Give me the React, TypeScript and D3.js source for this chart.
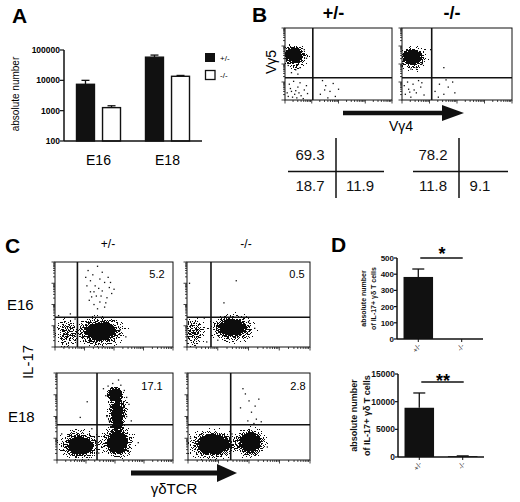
import React from "react";
import * as d3 from "d3";

const F = "'Liberation Sans', Arial, sans-serif";

// ---- panel A ----
const stagesA = ["E16", "E18"];
const genotypes = ["+/-", "-/-"];
const meanA = [
  [7400, 1260],
  [58000, 13600],
];
const errA = [
  [10000, 1450],
  [68000, 14500],
];
const ticksA = [100, 1000, 10000, 100000];

// ---- panel B ----
const bHeaders = ["+/-", "-/-"];
const quadTop = ["69.3", "78.2"];
const quadLL = ["18.7", "11.8"];
const quadLR = ["11.9", "9.1"];

// ---- panel C ----
const cHeaders = ["+/-", "-/-"];
const cRows = ["E16", "E18"];
const il17Pct = ["5.2", "0.5", "17.1", "2.8"];

// ---- panel D ----
const meanD16 = [383, 0];
const errD16 = [432, 0];
const ticksD16 = [0, 100, 200, 300, 400, 500];
const meanD18 = [8900, 150];
const errD18 = [11570, 200];
const ticksD18 = [0, 5000, 10000, 15000];

type Cluster = { cx: number; cy: number; rx: number; ry: number; d: number };
type Dot = [number, number];

// flow plots, coordinates in 0..1 of the plot box (y up); d = density
const clustersB1: Cluster[] = [
  { cx: 0.09, cy: 0.6, rx: 0.15, ry: 0.2, d: 0.45 },
  { cx: 0.08, cy: 0.63, rx: 0.09, ry: 0.12, d: 1 },
];
const dotsB1: Dot[] = [
  [0.03, 0.05], [0.06, 0.12], [0.09, 0.08], [0.12, 0.18], [0.04, 0.22], [0.15, 0.06],
  [0.18, 0.14], [0.08, 0.26], [0.11, 0.03], [0.2, 0.2], [0.05, 0.16], [0.14, 0.24],
  [0.02, 0.1], [0.17, 0.02], [0.1, 0.13], [0.07, 0.04], [0.13, 0.1], [0.21, 0.09],
  [0.33, 0.08], [0.38, 0.2], [0.42, 0.12], [0.47, 0.05], [0.35, 0.27], [0.45, 0.23],
  [0.4, 0.03], [0.5, 0.15], [0.37, 0.14],
  [0.1, 0.42], [0.06, 0.38], [0.14, 0.45], [0.18, 0.7], [0.2, 0.58], [0.03, 0.48], [0.12, 0.36],
];
const clustersB2: Cluster[] = [
  { cx: 0.1, cy: 0.58, rx: 0.15, ry: 0.2, d: 0.45 },
  { cx: 0.09, cy: 0.6, rx: 0.1, ry: 0.12, d: 1 },
];
const dotsB2: Dot[] = [
  [0.03, 0.08], [0.06, 0.15], [0.1, 0.22], [0.13, 0.1], [0.05, 0.25], [0.17, 0.18],
  [0.08, 0.04], [0.15, 0.27], [0.2, 0.07], [0.11, 0.14], [0.02, 0.2], [0.18, 0.24], [0.07, 0.11],
  [0.3, 0.12], [0.34, 0.22], [0.38, 0.08], [0.42, 0.18], [0.46, 0.25], [0.33, 0.04],
  [0.4, 0.28], [0.48, 0.1],
  [0.38, 0.45], [0.26, 0.7], [0.18, 0.5], [0.15, 0.66], [0.08, 0.43], [0.13, 0.45],
];
const clustersC1: Cluster[] = [
  { cx: 0.38, cy: 0.18, rx: 0.25, ry: 0.21, d: 0.5 },
  { cx: 0.39, cy: 0.19, rx: 0.14, ry: 0.12, d: 1 },
  { cx: 0.1, cy: 0.16, rx: 0.11, ry: 0.2, d: 0.38 },
];
const dotsC1: Dot[] = [
  [0.28, 0.9], [0.32, 0.85], [0.36, 0.95], [0.3, 0.78], [0.34, 0.72], [0.38, 0.8],
  [0.42, 0.76], [0.46, 0.7], [0.3, 0.65], [0.35, 0.6], [0.4, 0.66], [0.44, 0.58],
  [0.48, 0.63], [0.29, 0.55], [0.33, 0.5], [0.38, 0.53], [0.42, 0.47], [0.27, 0.72],
  [0.4, 0.88], [0.45, 0.82], [0.37, 0.69], [0.31, 0.59], [0.43, 0.52], [0.36, 0.45],
  [0.47, 0.76], [0.26, 0.82], [0.39, 0.6], [0.33, 0.65], [0.5, 0.68],
  [0.13, 0.39], [0.03, 0.37], [0.17, 0.33], [0.55, 0.2], [0.6, 0.12],
];
const clustersC2: Cluster[] = [
  { cx: 0.37, cy: 0.22, rx: 0.21, ry: 0.19, d: 0.5 },
  { cx: 0.37, cy: 0.23, rx: 0.12, ry: 0.11, d: 1 },
  { cx: 0.06, cy: 0.18, rx: 0.1, ry: 0.19, d: 0.38 },
];
const dotsC2: Dot[] = [
  [0.02, 0.75], [0.3, 0.52], [0.4, 0.78], [0.25, 0.08], [0.5, 0.3], [0.55, 0.22],
  [0.14, 0.34], [0.16, 0.06],
];
const clustersC3: Cluster[] = [
  { cx: 0.2, cy: 0.17, rx: 0.21, ry: 0.2, d: 0.5 },
  { cx: 0.2, cy: 0.17, rx: 0.12, ry: 0.12, d: 1 },
  { cx: 0.52, cy: 0.2, rx: 0.17, ry: 0.21, d: 0.5 },
  { cx: 0.52, cy: 0.2, rx: 0.1, ry: 0.14, d: 1 },
  { cx: 0.52, cy: 0.55, rx: 0.1, ry: 0.3, d: 0.55 },
  { cx: 0.52, cy: 0.5, rx: 0.05, ry: 0.18, d: 0.9 },
  { cx: 0.5, cy: 0.76, rx: 0.08, ry: 0.1, d: 0.9 },
];
const dotsC3: Dot[] = [
  [0.26, 0.67], [0.2, 0.49], [0.44, 0.85], [0.48, 0.88], [0.55, 0.86], [0.58, 0.8],
  [0.6, 0.72], [0.42, 0.74], [0.46, 0.62], [0.57, 0.6], [0.6, 0.5], [0.43, 0.5],
  [0.62, 0.64], [0.4, 0.82], [0.53, 0.92], [0.45, 0.45], [0.64, 0.45], [0.56, 0.42],
  [0.3, 0.36], [0.36, 0.08], [0.7, 0.2], [0.04, 0.3],
];
const clustersC4: Cluster[] = [
  { cx: 0.2, cy: 0.18, rx: 0.24, ry: 0.2, d: 0.5 },
  { cx: 0.21, cy: 0.18, rx: 0.15, ry: 0.13, d: 0.95 },
  { cx: 0.51, cy: 0.2, rx: 0.16, ry: 0.2, d: 0.5 },
  { cx: 0.51, cy: 0.2, rx: 0.09, ry: 0.13, d: 1 },
];
const dotsC4: Dot[] = [
  [0.45, 0.82], [0.47, 0.76], [0.5, 0.68], [0.55, 0.62], [0.52, 0.55], [0.43, 0.6],
  [0.56, 0.47], [0.6, 0.44], [0.49, 0.45], [0.58, 0.7], [0.54, 0.42], [0.02, 0.25],
  [0.36, 0.3], [0.65, 0.15],
];

type Box = { x: number; y: number; w: number; h: number };

function FlowPlot({ id, box, gx, gy, clusters, dots }: {
  id: string; box: Box; gx: number; gy: number; clusters: Cluster[]; dots: Dot[];
}) {
  const x = d3.scaleLinear().domain([0, 1]).range([box.x, box.x + box.w]);
  const y = d3.scaleLinear().domain([0, 1]).range([box.y + box.h, box.y]);
  const lx = d3.scaleLog().domain([1, 1e4]).range([box.x, box.x + box.w]);
  const ly = d3.scaleLog().domain([1, 1e4]).range([box.y + box.h, box.y]);
  const isMajor = (v: number) => Math.abs(Math.log10(v) - Math.round(Math.log10(v))) < 1e-6;
  const bottom = box.y + box.h;
  return (
    <g>
      <clipPath id={`clip-${id}`}>
        <rect x={box.x} y={box.y} width={box.w} height={box.h} />
      </clipPath>
      <g clipPath={`url(#clip-${id})`}>
        <g filter="url(#speckle)">
          {clusters.map((c, i) => (
            <ellipse key={i} cx={x(c.cx)} cy={y(c.cy)} rx={x(c.rx) - x(0)} ry={y(0) - y(c.ry)}
              fill="url(#blob)" opacity={c.d} />
          ))}
        </g>
        {dots.map(([a, b], i) => (
          <rect key={i} x={x(a) - 0.6} y={y(b) - 0.6} width={1.3} height={1.3} fill="#111" />
        ))}
      </g>
      <rect x={box.x} y={box.y} width={box.w} height={box.h} fill="none" stroke="#111" strokeWidth={1} />
      <line x1={x(gx)} x2={x(gx)} y1={box.y} y2={bottom} stroke="#111" strokeWidth={1.6} />
      <line x1={box.x} x2={box.x + box.w} y1={y(gy)} y2={y(gy)} stroke="#111" strokeWidth={1.6} />
      {ly.ticks().map((v, i) => (
        <line key={`l${i}`} x1={box.x - (isMajor(v) ? 3.5 : 2)} x2={box.x} y1={ly(v)} y2={ly(v)}
          stroke="#111" strokeWidth={0.8} />
      ))}
      {lx.ticks().map((v, i) => (
        <line key={`b${i}`} x1={lx(v)} x2={lx(v)} y1={bottom} y2={bottom + (isMajor(v) ? 3.5 : 2)}
          stroke="#111" strokeWidth={0.8} />
      ))}
    </g>
  );
}

function Arrow({ x0, x1, xh, y, t, hh }: { x0: number; x1: number; xh: number; y: number; t: number; hh: number }) {
  return (
    <g fill="#111">
      <rect x={x0} y={y - t / 2} width={xh - x0 + 1} height={t} />
      <path d={`M${xh},${y - hh}L${x1},${y}L${xh},${y + hh}Z`} />
    </g>
  );
}

function BarD({ x0, x1, yTop, yBot, max, ticks, means, errs, tickSize, sigY, sigText, sigBase, lab1X, lab2X, labSize }: any) {
  const x = d3.scaleBand<string>().domain(genotypes).range([x0, x1]).paddingInner(0.32).paddingOuter(0.15);
  const y = d3.scaleLinear().domain([0, max]).range([yBot, yTop]);
  const mid = (g: string) => (x(g) as number) + x.bandwidth() / 2;
  const cy = (yTop + yBot) / 2;
  return (
    <g fontFamily={F}>
      {genotypes.map((g, i) => (
        <g key={g}>
          <rect x={x(g)} y={y(means[i])} width={x.bandwidth()} height={yBot - y(means[i])} fill="#111" />
          {errs[i] > means[i] && (
            <g stroke="#111" strokeWidth={1.3}>
              <line x1={mid(g)} x2={mid(g)} y1={y(means[i])} y2={y(errs[i])} />
              <line x1={mid(g) - 6} x2={mid(g) + 6} y1={y(errs[i])} y2={y(errs[i])} />
            </g>
          )}
          <line x1={mid(g)} x2={mid(g)} y1={yBot} y2={yBot + 3} stroke="#111" strokeWidth={1} />
          <text transform={`translate(${mid(g) + 3},${yBot + 7}) rotate(-55)`} textAnchor="end"
            fontSize={7.5} fill="#333">{g}</text>
        </g>
      ))}
      <line x1={x0} x2={x0} y1={yTop} y2={yBot} stroke="#111" strokeWidth={1.5} />
      <line x1={x0} x2={x1} y1={yBot} y2={yBot} stroke="#111" strokeWidth={1.5} />
      {ticks.map((v: number) => (
        <g key={v}>
          <line x1={x0 - 3} x2={x0} y1={y(v)} y2={y(v)} stroke="#111" strokeWidth={1.2} />
          <text x={x0 - 3} y={y(v) + 3} textAnchor="end" fontSize={tickSize} fontWeight="bold" fill="#111">{v}</text>
        </g>
      ))}
      <line x1={mid("+/-") + 2} x2={mid("-/-") + 1} y1={sigY} y2={sigY} stroke="#111" strokeWidth={1.5} />
      <text x={(mid("+/-") + mid("-/-")) / 2 + 2} y={sigBase} textAnchor="middle" fontSize={18} fontWeight="bold">{sigText}</text>
      <g fontWeight="bold" fontSize={labSize} fill="#111" textAnchor="middle">
        <text transform={`translate(${lab1X},${cy}) rotate(-90)`}>absolute number</text>
        <text transform={`translate(${lab2X},${cy}) rotate(-90)`}>of IL-17+ γδ T cells</text>
      </g>
    </g>
  );
}

export default function App() {
  // panel A scales
  const xA = d3.scaleBand<string>().domain(stagesA).range([64, 202]);
  const xIn = d3.scaleBand<string>().domain(genotypes).range([0, xA.bandwidth()]).paddingInner(0.31).paddingOuter(0.48);
  const yA = d3.scaleLog().domain([100, 100000]).range([141, 50]);

  const bBoxes: Box[] = [
    { x: 285, y: 28, w: 107, h: 72 },
    { x: 402, y: 28, w: 110, h: 72 },
  ];
  const cBoxes: Box[] = [
    { x: 55, y: 262, w: 118, h: 85 },
    { x: 187, y: 262, w: 123, h: 85 },
    { x: 57, y: 373, w: 116, h: 87 },
    { x: 188, y: 373, w: 122, h: 87 },
  ];
  const cGates = [
    [0.19, 0.35],
    [0.195, 0.35],
    [0.345, 0.405],
    [0.35, 0.405],
  ];
  const cData = [
    [clustersC1, dotsC1],
    [clustersC2, dotsC2],
    [clustersC3, dotsC3],
    [clustersC4, dotsC4],
  ] as [Cluster[], Dot[]][];
  const pctPos = [
    [157, 278],
    [297, 278],
    [152, 390],
    [298, 390],
  ];
  const tableX = [
    { v: 336, h0: 288, h1: 384, c1: 310, c2: 360 },
    { v: 459, h0: 413, h1: 508, c1: 433, c2: 480 },
  ];

  return (
    <div style={{ position: "absolute", left: 0, top: 0, background: "#fff" }}>
      <svg width={520} height={502} style={{ display: "block" }} fontFamily={F}>
        <defs>
          <radialGradient id="blob">
            <stop offset="0" stopColor="#000" stopOpacity={1} />
            <stop offset="0.4" stopColor="#000" stopOpacity={0.95} />
            <stop offset="0.7" stopColor="#000" stopOpacity={0.55} />
            <stop offset="0.88" stopColor="#000" stopOpacity={0.2} />
            <stop offset="1" stopColor="#000" stopOpacity={0} />
          </radialGradient>
          <filter id="speckle" filterUnits="userSpaceOnUse" x={0} y={0} width={520} height={502}
            colorInterpolationFilters="sRGB">
            <feTurbulence type="fractalNoise" baseFrequency="0.85" numOctaves={2} seed={7} result="noise" />
            <feColorMatrix in="noise" type="matrix"
              values="0 0 0 0 0  0 0 0 0 0  0 0 0 0 0  2.2 0 0 0 -0.6" result="na" />
            <feComposite in="SourceAlpha" in2="na" operator="arithmetic" k1={0} k2={1.5} k3={-1} k4={0.49} result="diff" />
            <feComponentTransfer in="diff" result="thr">
              <feFuncA type="discrete" tableValues="0 1" />
            </feComponentTransfer>
            <feColorMatrix in="thr" type="matrix"
              values="0 0 0 0 0.05  0 0 0 0 0.05  0 0 0 0 0.05  0 0 0 1 0" />
          </filter>
        </defs>
        <rect width={520} height={502} fill="#fff" />

        {/* ---------- A ---------- */}
        <text x={12} y={23} fontSize={21} fontWeight="bold">A</text>
        {stagesA.map((s, i) => (
          <g key={s}>
            {genotypes.map((g, j) => {
              const bx = (xA(s) as number) + (xIn(g) as number);
              const bw = xIn.bandwidth();
              const cx = bx + bw / 2;
              return (
                <g key={g}>
                  <line x1={cx} x2={cx} y1={yA(meanA[i][j])} y2={yA(errA[i][j])} stroke="#111" strokeWidth={1.3} />
                  <line x1={cx - 4} x2={cx + 4} y1={yA(errA[i][j])} y2={yA(errA[i][j])} stroke="#111" strokeWidth={1.3} />
                  <rect x={bx} y={yA(meanA[i][j])} width={bw} height={141 - yA(meanA[i][j])}
                    fill={j === 0 ? "#111" : "#fff"} stroke="#111" strokeWidth={1.4} />
                </g>
              );
            })}
            <text x={(xA(s) as number) + xA.bandwidth() / 2} y={165} textAnchor="middle" fontSize={14}>{s}</text>
          </g>
        ))}
        <line x1={64} x2={64} y1={50} y2={141} stroke="#111" strokeWidth={1.5} />
        <line x1={64} x2={202} y1={141} y2={141} stroke="#111" strokeWidth={1.5} />
        {ticksA.map((v) => (
          <g key={v}>
            <line x1={60} x2={64} y1={yA(v)} y2={yA(v)} stroke="#111" strokeWidth={1.2} />
            <text x={60} y={yA(v) + 3} textAnchor="end" fontSize={8.5} fontWeight="bold">{v}</text>
          </g>
        ))}
        <text transform="translate(19,94) rotate(-90)" textAnchor="middle" fontSize={10}>absolute number</text>
        <rect x={205} y={53} width={10} height={9} fill="#111" />
        <text x={220} y={61} fontSize={8}>+/-</text>
        <rect x={205.5} y={70.5} width={9.5} height={9} fill="#fff" stroke="#111" strokeWidth={1.3} />
        <text x={220} y={78} fontSize={8}>-/-</text>

        {/* ---------- B ---------- */}
        <text x={252} y={22} fontSize={21} fontWeight="bold">B</text>
        {bHeaders.map((h, i) => (
          <text key={h} x={bBoxes[i].x + bBoxes[i].w / 2 - 5} y={19} textAnchor="middle" fontSize={18} fontWeight="bold">{h}</text>
        ))}
        <FlowPlot id="b1" box={bBoxes[0]} gx={0.26} gy={0.31} clusters={clustersB1} dots={dotsB1} />
        <FlowPlot id="b2" box={bBoxes[1]} gx={0.27} gy={0.31} clusters={clustersB2} dots={dotsB2} />
        <text transform="translate(276,62) rotate(-90)" textAnchor="middle" fontSize={14}>Vγ5</text>
        <Arrow x0={343} x1={464} xh={442} y={113} t={4.5} hh={8} />
        <text x={401} y={131} textAnchor="middle" fontSize={14}>Vγ4</text>
        {tableX.map((t, i) => (
          <g key={i}>
            <line x1={t.v} x2={t.v} y1={138} y2={198} stroke="#111" strokeWidth={1.5} />
            <line x1={t.h0} x2={t.h1} y1={171.5} y2={171.5} stroke="#111" strokeWidth={1.5} />
            <g fontSize={15} textAnchor="middle" fill="#111">
              <text x={t.c1} y={160}>{quadTop[i]}</text>
              <text x={t.c1} y={191}>{quadLL[i]}</text>
              <text x={t.c2} y={191}>{quadLR[i]}</text>
            </g>
          </g>
        ))}

        {/* ---------- C ---------- */}
        <text x={5} y={253} fontSize={21} fontWeight="bold">C</text>
        {cHeaders.map((h, i) => (
          <text key={h} x={i === 0 ? 108 : 246} y={248} textAnchor="middle" fontSize={12}>{h}</text>
        ))}
        {cBoxes.map((b, i) => (
          <FlowPlot key={i} id={`c${i}`} box={b} gx={cGates[i][0]} gy={cGates[i][1]}
            clusters={cData[i][0]} dots={cData[i][1]} />
        ))}
        {il17Pct.map((p, i) => (
          <text key={i} x={pctPos[i][0]} y={pctPos[i][1]} textAnchor="middle" fontSize={11}>{p}</text>
        ))}
        <text x={7} y={310} fontSize={15}>{cRows[0]}</text>
        <text x={8} y={422} fontSize={15}>{cRows[1]}</text>
        <text transform="translate(33,362) rotate(-90)" textAnchor="middle" fontSize={15}>IL-17</text>
        <Arrow x0={131} x1={237} xh={217} y={473} t={5} hh={9} />
        <text x={174} y={494} textAnchor="middle" fontSize={15}>γδTCR</text>

        {/* ---------- D ---------- */}
        <text x={331} y={252} fontSize={21} fontWeight="bold">D</text>
        <BarD x0={397} x1={483} yTop={258} yBot={339} max={500} ticks={ticksD16}
          means={meanD16} errs={errD16} tickSize={8} sigY={258} sigText="*" sigBase={260}
          lab1X={366} lab2X={376} labSize={7} />
        <BarD x0={398} x1={484} yTop={374} yBot={457} max={15000} ticks={ticksD18}
          means={meanD18} errs={errD18} tickSize={8.5} sigY={382} sigText="**" sigBase={387}
          lab1X={357} lab2X={370} labSize={9} />
      </svg>
    </div>
  );
}
